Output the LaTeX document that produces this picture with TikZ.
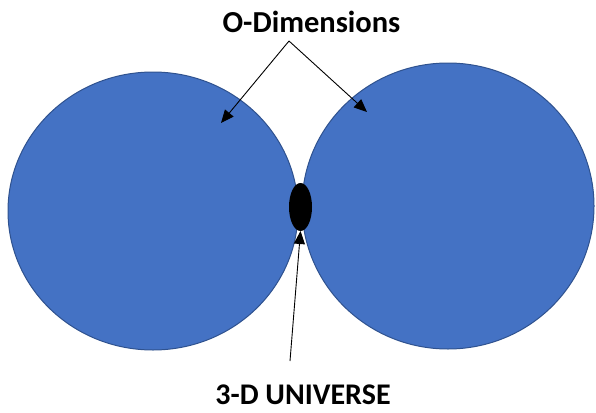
\documentclass[tikz,border=0pt]{standalone}
\usepackage{fontspec}
\setmainfont{Carlito}
\usetikzlibrary{arrows.meta}
\definecolor{blobfill}{HTML}{4472C4}
\definecolor{blobedge}{HTML}{2F528F}
\begin{document}
\begin{tikzpicture}[x=1pt,y=-1pt,
  ptr/.style={draw=black, line width=0.9pt, -{Triangle[length=13pt,width=11pt]}},
  lbl/.style={inner sep=0pt}]
\useasboundingbox (0,0) rectangle (596,412);
\fill[blobfill, draw=blobedge, line width=1pt] (153,211) ellipse [x radius=145, y radius=139];
\fill[blobfill, draw=blobedge, line width=1pt] (448,206) ellipse [x radius=146, y radius=143];
\fill[black] (300.5,207) ellipse [x radius=11.5, y radius=24];
\coordinate (blackbottom) at (300.5,231);
\coordinate (lefttip) at (221,123);
\coordinate (righttip) at (367,112);
\coordinate (topjoin) at (289,41);
\coordinate (botstart) at (290,361);
\node[lbl, font=\fontsize{30.5}{34}\selectfont\bfseries] (odim) at (311.5,21.5) {O-Dimensions};
\node[lbl, font=\fontsize{30}{34}\selectfont\bfseries] (univ) at (303,394.5) {3-D UNIVERSE};
\draw[ptr] (topjoin) -- (lefttip);
\draw[ptr] (topjoin) -- (righttip);
\draw[ptr] (botstart) -- (blackbottom);
\end{tikzpicture}
\end{document}
